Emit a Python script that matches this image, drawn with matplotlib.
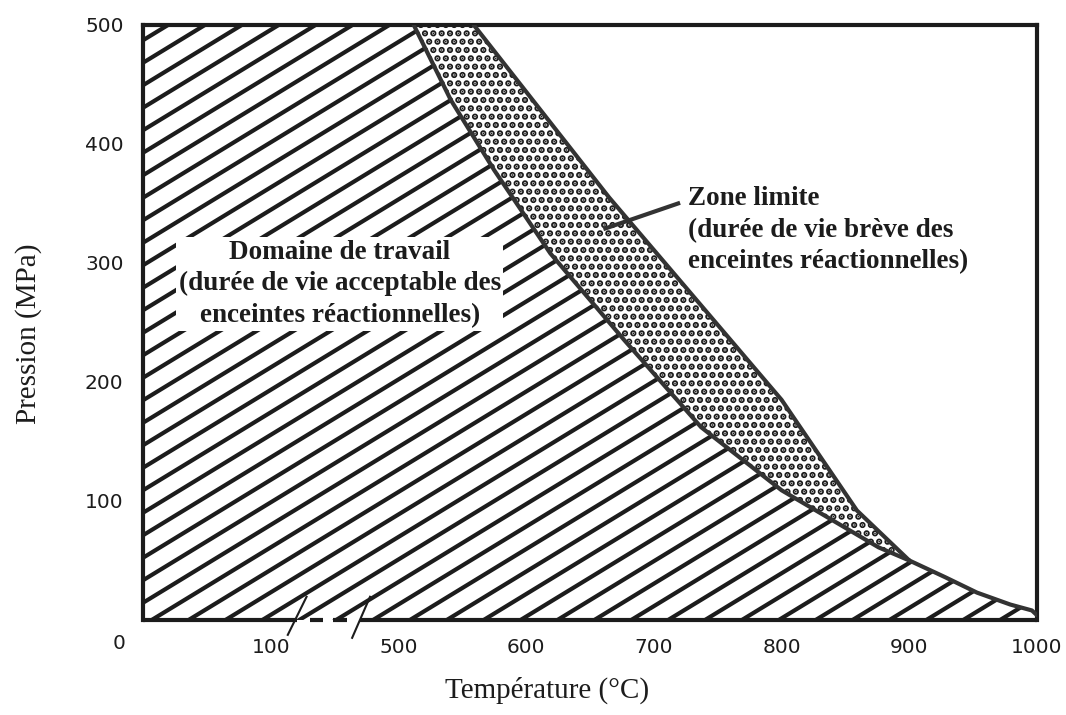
import numpy as np
import matplotlib.pyplot as plt
from matplotlib.patches import Polygon
from matplotlib.collections import LineCollection

# Axe des températures coupé entre 100 et 500 °C
scale_temps = [0, 100, 500, 600, 700, 800, 900, 1000]
temp_ticks = [100, 500, 600, 700, 800, 900, 1000]
press_ticks = [100, 200, 300, 400, 500]

# Limite du domaine de travail (°C, MPa)
inner_t = [512, 541, 575, 619, 677, 737, 800, 876, 900]
inner_p = [500, 437, 378, 308, 235, 162, 109, 61, 50]
# Limite extérieure de la zone limite
outer_t = [559, 665, 800, 859, 900]
outer_p = [500, 355, 185, 92, 50]
# Queue commune au-delà de 900 °C
tail_t = [900, 928, 953, 979, 996, 1000]
tail_p = [50, 36, 23, 13, 8, 4]
# Trait de rappel vers l'étiquette "Zone limite"
leader_t = [662, 719]
leader_p = [329, 350]

ink = '#1c1c1c'
plt.rcParams['hatch.linewidth'] = 3.2


def fwd(t):
    return np.interp(t, scale_temps, np.arange(len(scale_temps)))


def inv(u):
    return np.interp(u, np.arange(len(scale_temps)), scale_temps)


fig = plt.figure(figsize=(10.66, 7.15), dpi=100)
ax = fig.add_axes([0.1341, 0.1329, 0.8387, 0.8322])
ax.set_xscale('function', functions=(fwd, inv))
ax.set_xlim(0, 1000)
ax.set_ylim(0, 500)

# Domaine de travail (hachuré)
work_x = [0, 0] + inner_t + tail_t[1:] + [1000]
work_y = [0, 500] + inner_p + tail_p[1:] + [0]
work = Polygon(np.column_stack([work_x, work_y]), closed=True,
               fc='white', ec='none', zorder=1)
ax.add_patch(work)

# hachures obliques, en coordonnées axes
slope = 0.61 * (894 / 595)
step = 22.5 / 595
segs = [[(0, y0), (1, y0 + slope)] for y0 in np.arange(-slope, 1.0, step)]
hatch = LineCollection(segs, colors=ink, linewidths=3.0,
                       transform=ax.transAxes, zorder=2)
hatch.set_clip_path(work)
ax.add_collection(hatch)

# Zone limite (pointillée)
zone_x = outer_t + inner_t[::-1]
zone_y = outer_p + inner_p[::-1]
zone = Polygon(np.column_stack([zone_x, zone_y]), closed=True,
               fc='white', ec=ink, lw=0, hatch='..', zorder=1)
ax.add_patch(zone)

for t, p in [(inner_t, inner_p), (outer_t, outer_p), (tail_t, tail_p)]:
    ax.plot(t, p, color='#333333', lw=3, zorder=3, solid_capstyle='round')
ax.plot(leader_t, leader_p, color='#333333', lw=3, zorder=3)

# Cadre
for side in ['top', 'left', 'right']:
    ax.spines[side].set_linewidth(3)
    ax.spines[side].set_color(ink)
ax.spines['bottom'].set_visible(False)

# axe horizontal avec la coupure
axis_kw = dict(transform=ax.transAxes, clip_on=False, color=ink, zorder=4)
ax.plot([0, 0.172], [0, 0], lw=3, solid_capstyle='butt', **axis_kw)
ax.plot([0.243, 1], [0, 0], lw=3, solid_capstyle='butt', **axis_kw)
ax.plot([0.187, 0.201], [0, 0], lw=3, solid_capstyle='butt', **axis_kw)
ax.plot([0.213, 0.228], [0, 0], lw=3, solid_capstyle='butt', **axis_kw)
ax.plot([0.162, 0.183], [-0.025, 0.039], lw=1.5, **axis_kw)
ax.plot([0.234, 0.254], [-0.030, 0.039], lw=1.5, **axis_kw)

ax.set_xticks(temp_ticks)
ax.set_xticklabels([str(t) for t in temp_ticks])
ax.set_yticks(press_ticks)
ax.set_yticklabels([str(p) for p in press_ticks])
ax.minorticks_off()
ax.tick_params(axis='x', length=0, pad=13, labelsize=14.5, labelcolor=ink)
ax.tick_params(axis='y', length=0, pad=14, labelsize=14.5, labelcolor=ink)
ax.annotate('0', xy=(0, 0), xycoords='axes fraction', xytext=(-17, -17),
            textcoords='offset points', ha='center', va='center',
            fontsize=14.5, color=ink)

serif = 'Liberation Serif'
fig.text(0.513, 0.035, 'Température (°C)', ha='center', va='center',
         family=serif, fontsize=21, color=ink)
fig.text(0.027, 0.533, 'Pression (MPa)', ha='center', va='center',
         rotation=90, family=serif, fontsize=21, color=ink)

ax.text(0.220, 0.565,
        'Domaine de travail\n(durée de vie acceptable des\nenceintes réactionnelles)',
        transform=ax.transAxes, ha='center', va='center', ma='center',
        family=serif, fontweight='bold', fontsize=19.5, color=ink,
        linespacing=1.35, zorder=5,
        bbox=dict(fc='white', ec='none', pad=2))
ax.text(0.610, 0.655,
        'Zone limite\n(durée de vie brève des\nenceintes réactionnelles)',
        transform=ax.transAxes, ha='left', va='center', ma='left',
        family=serif, fontweight='bold', fontsize=19.5, color=ink,
        linespacing=1.35, zorder=5)

fig.savefig('out.png', dpi=100)
